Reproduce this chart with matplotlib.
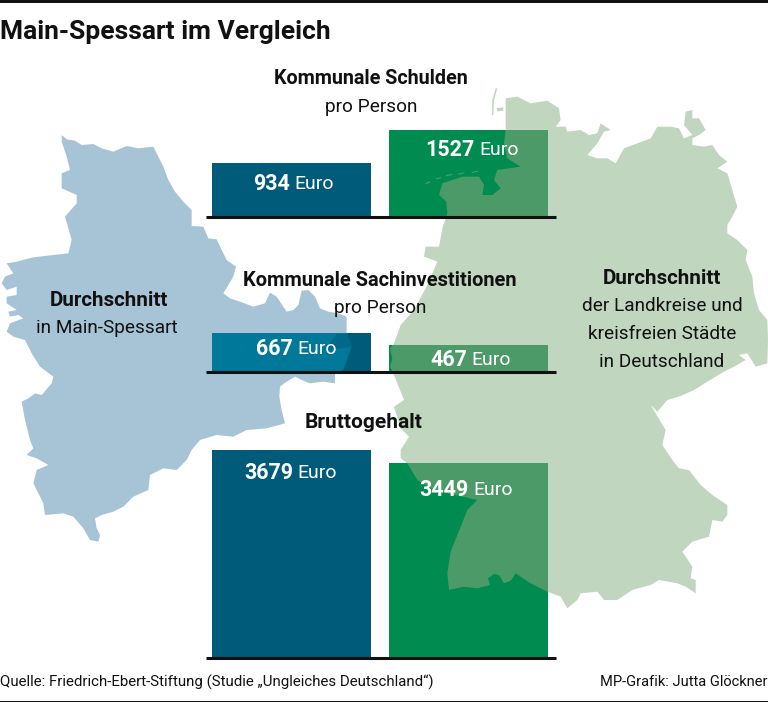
import matplotlib
matplotlib.use('Agg')
import matplotlib.pyplot as plt
import numpy as np
from matplotlib.patches import Polygon, Rectangle

# Werte (Euro)
categories = ['Main-Spessart', 'Deutschland']
sections = ['Kommunale Schulden', 'Kommunale Sachinvestitionen', 'Bruttogehalt']
subtitles = ['pro Person', 'pro Person', '']
schulden = [934, 1527]
sachinvest = [667, 467]
gehalt = [3679, 3449]

# Umrisse der Karten (Zoom-Koordinaten)
spessart_zoom = [(185,45),(200,58),(225,62),(245,75),(280,72),(305,85),(340,95),(380,78),(415,85),(460,80),(475,110),(490,140),(505,180),(525,215),(550,245),(575,270),(575,318),(610,320),(625,355),(650,358),(665,390),(680,420),(708,440),(700,470),(670,520),(690,535),(720,545),(760,560),(795,550),(810,518),(830,530),(860,575),(880,570),(895,555),(905,512),(925,510),(945,530),(960,565),(985,575),(1015,580),(1040,590),(1040,640),(1055,680),(1030,750),(1005,760),(1005,790),(970,785),(930,790),(905,780),(885,770),(860,785),(840,800),(838,830),(845,870),(855,910),(800,925),(740,930),(700,950),(650,945),(600,960),(575,990),(560,1020),(530,1050),(490,1045),(450,1065),(445,1110),(400,1130),(370,1160),(340,1175),(305,1185),(285,1195),(290,1225),(300,1245),(295,1265),(270,1260),(250,1225),(220,1190),(190,1180),(135,1185),(130,1150),(100,1090),(110,1050),(145,1035),(110,1015),(80,1005),(100,985),(90,960),(75,900),(65,845),(85,835),(105,820),(125,825),(155,790),(160,770),(120,740),(95,700),(75,660),(40,650),(20,635),(30,610),(70,595),(55,585),(30,590),(25,575),(50,570),(20,550),(20,530),(50,525),(50,500),(20,510),(5,490),(15,470),(40,460),(20,430),(50,425),(100,412),(160,405),(205,400),(215,360),(195,290),(230,250),(230,225),(185,205),(185,160),(210,150),(200,110),(185,65)]

de_nord_zoom = [(365,55),(400,50),(440,70),(490,62),(525,85),(530,120),(515,140),(545,140),(550,155),(590,150),(615,165),(640,160),(650,130),(680,150),(660,155),(640,190),(610,225),(640,235),(670,235),(695,250),(720,205),(760,190),(800,175),(820,140),(860,140),(885,145),(900,175),(925,165),(900,135),(905,95),(925,90),(925,115),(945,115),(965,150),(945,165),(925,175),(925,195),(960,200),(985,195),(1005,225),(1030,245),(1000,265),(1030,280),(1045,330),(1060,380),(1045,410),(1030,435),(1030,460),(1060,480),(1090,510),(1085,540),(1105,590),(1110,640),(1125,690),(1150,720),(1152,780),(1150,850),(1115,860),(1090,820),(1065,825),(1085,840),(1050,860)]
de_sued_zoom = [(1020,5),(970,35),(930,60),(890,78),(850,90),(820,125),(800,105),(845,180),(835,225),(865,270),(885,295),(915,300),(950,345),(985,375),(1030,405),(1030,435),(1015,455),(985,450),(975,500),(925,515),(895,545),(925,590),(920,625),(935,630),(935,670),(905,650),(880,640),(825,630),(800,645),(745,660),(700,690),(660,690),(640,665),(590,670),(580,690),(550,715),(530,680),(490,665),(440,640),(395,610),(380,632),(360,640),(345,615),(330,612),(312,625),(318,645),(280,655),(240,650),(195,660),(190,610),(200,545),(230,470),(250,420),(280,390),(150,360),(100,330),(70,280),(50,265),(50,240),(75,200),(50,175),(30,110),(60,90),(40,40),(30,15)]
de_west_zoom = [(18,860),(25,835),(18,805),(30,790),(50,735),(90,690),(130,615),(160,545),(120,530),(125,500),(165,500),(175,445),(190,400),(187,365),(165,345),(175,310),(235,290),(285,290),(300,315),(295,345),(325,345),(350,325),(330,300),(340,270),(375,265),(410,260),(370,235),(360,190),(365,150),(365,100)]

# Inseln: Sylt, Amrum, Ostfriesische Inseln
inseln_zoom = [[(335,25),(340,25),(330,60),(328,105),(324,105),(325,60)],
               [(338,84),(358,82),(358,92),(340,94)],
               [(123,310),(135,304),(140,307),(128,312)],
               [(155,295),(170,291),(172,294),(158,298)],
               [(185,285),(205,282),(206,285),(187,289)],
               [(222,281),(240,277),(241,280),(224,284)],
               [(262,276),(282,272),(283,275),(264,279)]]

# Keil im 667-Balken, etwas dunkler als die Ueberlappung
keil_px = [(325,350),(337,334),(347,334),(352,347)]

# Massstab: 17.77 Euro je Pixel, alle drei Gruppen gleich
EURO_PRO_PIXEL = 17.77
W, H = 768, 702
BLUE_MAP = '#a7c4d6'
GREEN_MAP = '#c0d6bf'
BLUE_BAR = '#005a79'
BLUE_MIX = '#00789a'
BLUE_KEIL = '#00688a'
GREEN_BAR = '#008c50'
GREEN_MIX = '#4c9a68'

# Schriftgroessen einzeln an die Textbreiten angepasst
plt.rcParams['font.family'] = ['Roboto', 'DejaVu Sans']
REG = 13.7

def zoom2px(pts, x0, y0):
    return [(x0 + x / 3, y0 + y / 3) for x, y in pts]

fig = plt.figure(figsize=(W / 100, H / 100), dpi=100)
bg = fig.add_axes([0, 0, 1, 1], zorder=0)
bg.set_xlim(0, W)
bg.set_ylim(H, 0)
bg.axis('off')

bg.add_patch(Rectangle((0, 0), W, 3, color='#111111', lw=0))
bg.add_patch(Rectangle((0, 700.5), W, 1.5, color='#111111', lw=0))

spessart = Polygon(zoom2px(spessart_zoom, 0, 120), closed=True, fc=BLUE_MAP, ec='none')
bg.add_patch(spessart)

de_pts = zoom2px(de_nord_zoom, 384, 80) + zoom2px(de_sued_zoom, 384, 370) + zoom2px(de_west_zoom, 384, 80)
germany = Polygon(de_pts, closed=True, fc=GREEN_MAP, ec='none')
bg.add_patch(germany)
inseln = []
for pts in inseln_zoom:
    p = Polygon(zoom2px(pts, 384, 80), closed=True, fc=GREEN_MAP, ec='none')
    bg.add_patch(p)
    inseln.append(p)

# Balken: je Gruppe eigene Achse mit gleichem Massstab
groups = [(schulden, 216), (sachinvest, 371), (gehalt, 657)]
bar_x = [291.5, 468.5]
bar_w = 159
for values, base in groups:
    ax = fig.add_axes([0, (H - base) / H, 1, 215 / H], zorder=1)
    ax.patch.set_alpha(0)
    ax.axis('off')
    ax.set_xlim(0, W)
    ax.set_ylim(0, 215 * EURO_PRO_PIXEL)
    ax.bar(bar_x, values, width=bar_w, color=[BLUE_BAR, GREEN_BAR], lw=0)
    # Ueberlappung mit den Karten
    for b in ax.bar(bar_x[0], values[0], width=bar_w, color=BLUE_MIX, lw=0):
        b.set_clip_path(spessart)
    for b in ax.bar(bar_x[1], values[1], width=bar_w, color=GREEN_MIX, lw=0):
        b.set_clip_path(germany)
    for p in inseln[2:]:
        for b in ax.bar(bar_x[1], values[1], width=bar_w, color=GREEN_MIX, lw=0):
            b.set_clip_path(p)

fg = fig.add_axes([0, 0, 1, 1], zorder=2)
fg.patch.set_alpha(0)
fg.set_xlim(0, W)
fg.set_ylim(H, 0)
fg.axis('off')

fg.add_patch(Polygon(keil_px, closed=True, fc=BLUE_KEIL, ec='none', zorder=1))

for base in [216, 371, 657]:
    fg.plot([206, 556], [base + 0.5, base + 0.5], color='#111111', lw=2.2, solid_capstyle='butt')

def label(x, y, bold, regular, color='white'):
    # fetter Wert + normaler Zusatz nebeneinander
    t = fg.annotate(bold, (x, y), ha='left', va='center', fontsize=15.5, fontweight='bold', color=color)
    fg.annotate(regular, xy=(1, 0.5), xycoords=t, xytext=(3.5, 0), textcoords='offset points',
                ha='left', va='center', fontsize=14, color=color)

label(253, 184, str(schulden[0]), 'Euro')
label(425, 150, str(schulden[1]), 'Euro')
label(256, 349, str(sachinvest[0]), 'Euro')
label(430, 360, str(sachinvest[1]), 'Euro')
label(244, 473, str(gehalt[0]), 'Euro')
label(419, 490, str(gehalt[1]), 'Euro')

txt = '#111111'
fg.text(0, 32, 'Main-Spessart im Vergleich', fontsize=19, fontweight='bold', va='center', color=txt)
fg.text(371, 79, sections[0], fontsize=14.2, fontweight='bold', ha='center', va='center', color=txt)
fg.text(371, 107, subtitles[0], fontsize=REG, ha='center', va='center', color=txt)
fg.text(380, 280, sections[1], fontsize=14.4, fontweight='bold', ha='center', va='center', color=txt)
fg.text(380, 308, subtitles[1], fontsize=REG, ha='center', va='center', color=txt)
fg.text(364, 422, sections[2], fontsize=15, fontweight='bold', ha='center', va='center', color=txt)

fg.text(109, 300, 'Durchschnitt', fontsize=14.9, fontweight='bold', ha='center', va='center', color=txt)
fg.text(107, 328, 'in Main-Spessart', fontsize=REG, ha='center', va='center', color=txt)
fg.text(662, 278, 'Durchschnitt', fontsize=14.9, fontweight='bold', ha='center', va='center', color=txt)
fg.text(662, 306, 'der Landkreise und', fontsize=REG, ha='center', va='center', color=txt)
fg.text(662, 334, 'kreisfreien Städte', fontsize=REG, ha='center', va='center', color=txt)
fg.text(662, 362, 'in Deutschland', fontsize=REG, ha='center', va='center', color=txt)

fg.text(0, 682, 'Quelle: Friedrich-Ebert-Stiftung (Studie „Ungleiches Deutschland“)', fontsize=10.8, va='center', color=txt)
fg.text(768, 682, 'MP-Grafik: Jutta Glöckner', fontsize=10.5, ha='right', va='center', color=txt)

fig.savefig('out.png', dpi=100)
